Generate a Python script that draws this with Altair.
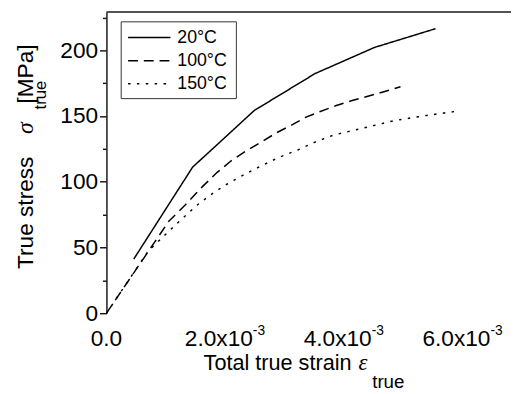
import altair as alt
import pandas as pd

# ---- data ----
series_names = ["20°C", "100°C", "150°C"]

strain_20 = [0.00046, 0.00145, 0.00249, 0.00351, 0.00451, 0.00554]
stress_20 = [41.2, 111.1, 154.3, 182.3, 202.2, 216.5]

strain_100 = [0.0, 0.00075, 0.00105, 0.00133, 0.00162, 0.00186, 0.0021, 0.00235, 0.0026,
              0.00285, 0.00313, 0.00335, 0.0036, 0.00387, 0.00415, 0.00443, 0.00467, 0.00495]
stress_100 = [0.0, 50.0, 70.0, 82.5, 96.5, 107.0, 116.0, 123.5, 130.0,
              137.0, 143.5, 149.0, 153.5, 158.0, 162.0, 165.5, 168.5, 172.3]

strain_150 = [0.0, 0.0007, 0.00095, 0.00124, 0.00152, 0.00175, 0.002, 0.0023, 0.0026,
              0.0029, 0.00321, 0.0035, 0.00382, 0.00429, 0.00484, 0.00539, 0.00595]
stress_150 = [0.0, 47.0, 58.0, 70.5, 82.0, 90.0, 97.5, 105.0, 112.0,
              118.5, 124.0, 130.0, 135.5, 140.5, 146.5, 150.5, 154.0]

x_tick_values = [0.0, 0.001, 0.002, 0.003, 0.004, 0.005, 0.006]
x_label_ticks = [0.002, 0.004, 0.006]
x_label_texts = ["2.0x10", "4.0x10", "6.0x10"]
x_label_exp = ["-3", "-3", "-3"]
y_tick_values = [0, 25, 50, 75, 100, 125, 150, 175, 200, 225]

# ---- tables ----
rows = []
for name, xs, ys in [(series_names[0], strain_20, stress_20),
                     (series_names[1], strain_100, stress_100),
                     (series_names[2], strain_150, stress_150)]:
    for xv, yv in zip(xs, ys):
        rows.append({"series": name, "strain": xv, "stress": yv})
df = pd.DataFrame(rows)
legend_df = pd.DataFrame({"series": series_names, "idx": [0, 1, 2]})
xlab_df = pd.DataFrame({"strain": x_label_ticks, "main": x_label_texts, "exp": x_label_exp})
zero_df = pd.DataFrame({"strain": [0.0], "main": ["0.0"]})

W, H = 411, 306
FONT = "Liberation Sans"
AX = "#1a1a1a"

dash_scale = alt.Scale(domain=series_names, range=[[1, 0], [10, 6], [2.5, 6.5]])
x_scale = alt.Scale(domain=[0, 0.00681], nice=False, zero=False)

lines = alt.Chart(df).mark_line(color="black", strokeWidth=1.5).encode(
    x=alt.X("strain:Q", scale=x_scale,
            axis=alt.Axis(values=x_tick_values, labels=False, title=None, grid=False,
                          domainColor=AX, domainWidth=1.5, tickColor=AX, tickWidth=1.5,
                          tickSize={"condition": {"test": "round(datum.value*1000) % 2 === 0", "value": 6},
                                    "value": 4})),
    y=alt.Y("stress:Q", scale=alt.Scale(domain=[0, 229.2], nice=False),
            axis=alt.Axis(values=y_tick_values, title=None, grid=False,
                          labelExpr="datum.value % 50 === 0 ? datum.label : ''",
                          labelFont=FONT, labelFontSize=23, labelColor="black", labelPadding=2,
                          domainColor=AX, domainWidth=1.5, tickColor=AX, tickWidth=1.5,
                          tickSize={"condition": {"test": "datum.value % 50 === 0", "value": 7},
                                    "value": 4})),
    strokeDash=alt.StrokeDash("series:N", scale=dash_scale, legend=None),
)

top_border = alt.Chart(legend_df.head(1)).mark_rule(color=AX, strokeWidth=1.5).encode(
    x=alt.value(0), x2=alt.value(W), y=alt.value(0))

# x tick labels with superscript exponent
zero_lab = alt.Chart(zero_df).mark_text(font=FONT, fontSize=23, align="center",
                                        baseline="alphabetic", color="black").encode(
    x=alt.X("strain:Q", scale=x_scale, axis=None), y=alt.value(339), text="main:N")
main_lab = alt.Chart(xlab_df).mark_text(font=FONT, fontSize=23, align="right", dx=28,
                                        baseline="alphabetic", color="black").encode(
    x=alt.X("strain:Q", scale=x_scale, axis=None), y=alt.value(339), text="main:N")
exp_lab = alt.Chart(xlab_df).mark_text(font=FONT, fontSize=14, align="left", dx=28,
                                       baseline="alphabetic", color="black").encode(
    x=alt.X("strain:Q", scale=x_scale, axis=None), y=alt.value(328), text="exp:N")

# legend (built from the series list)
leg_y = alt.Y("idx:Q", scale=alt.Scale(domain=[0, 2], range=[26, 73]), axis=None)
leg_box = alt.Chart(legend_df.head(1)).mark_rect(fill="white", stroke="#333", strokeWidth=1).encode(
    x=alt.value(15), x2=alt.value(132), y=alt.value(10), y2=alt.value(88))
leg_lines = alt.Chart(legend_df).mark_rule(color="black", strokeWidth=1.5).encode(
    x=alt.value(22), x2=alt.value(65), y=leg_y,
    strokeDash=alt.StrokeDash("series:N", scale=dash_scale, legend=None))
leg_text = alt.Chart(legend_df).mark_text(font=FONT, fontSize=18, align="left",
                                          baseline="middle", color="black").encode(
    x=alt.value(72), y=leg_y, text="series:N")

# axis titles with sub-scripts
one = pd.DataFrame({"k": [0]})
def txt(s, x, y, size, angle=0, font=FONT, style="normal", align="left"):
    return alt.Chart(one).mark_text(text=s, font=font, fontSize=size, fontStyle=style,
                                    angle=angle, align=align, baseline="alphabetic",
                                    color="black").encode(x=alt.value(x), y=alt.value(y))

ytitle = [
    txt("True stress", -75, 261, 23, angle=270),
    txt("σ", -75, 124, 24, angle=270, font="Liberation Serif", style="italic"),
    txt("true", -61, 99, 17, angle=270),
    txt("[MPa]", -75, 93, 23, angle=270),
]
xtitle = [
    txt("Total true strain", 249, 364, 22, align="right"),
    txt("ε", 256, 364, 23, font="Liberation Serif", style="italic"),
    txt("true", 270, 382, 19),
]

chart = alt.layer(
    lines, top_border, zero_lab, main_lab, exp_lab,
    leg_box, leg_lines, leg_text, *ytitle, *xtitle
).resolve_scale(y="independent").properties(
    width=W, height=H,
    padding={"left": 100, "top": 1, "right": 0, "bottom": 78},
    autosize=alt.AutoSizeParams(type="none"),
).configure_view(stroke=None)

chart.save("out.html", embed_options={"renderer": "svg", "actions": False})
